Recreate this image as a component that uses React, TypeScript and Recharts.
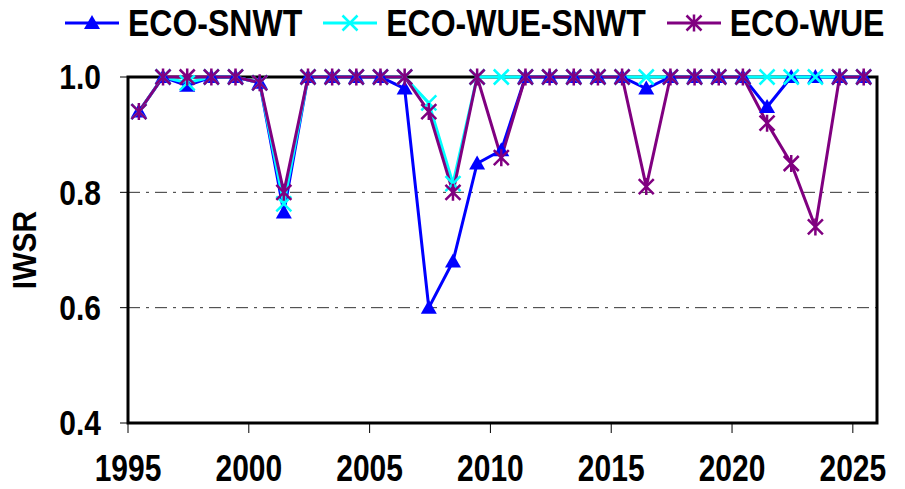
import { LineChart, Line, XAxis, YAxis, CartesianGrid, ReferenceArea, Label } from 'recharts'

const years = [
  1995, 1996, 1997, 1998, 1999, 2000, 2001, 2002, 2003, 2004, 2005,
  2006, 2007, 2008, 2009, 2010, 2011, 2012, 2013, 2014, 2015,
  2016, 2017, 2018, 2019, 2020, 2021, 2022, 2023, 2024, 2025
]

const ecoSnwt = [
  0.94, 1, 0.985, 1, 1, 0.99, 0.765, 1, 1, 1, 1,
  0.98, 0.6, 0.68, 0.85, 0.873, 1, 1, 1, 1, 1,
  0.98, 1, 1, 1, 1, 0.948, 1, 1, 1, 1
]

const ecoWueSnwt = [
  0.94, 1, 0.99, 1, 1, 0.99, 0.78, 1, 1, 1, 1,
  1, 0.955, 0.815, 1, 1, 1, 1, 1, 1, 1,
  1, 1, 1, 1, 1, 1, 1, 1, 1, 1
]

const ecoWue = [
  0.94, 1, 1, 1, 1, 0.99, 0.8, 1, 1, 1, 1,
  1, 0.94, 0.8, 1, 0.86, 1, 1, 1, 1, 1,
  0.81, 1, 1, 1, 1, 0.92, 0.85, 0.74, 1, 1
]

const xTicks = [1995, 2000, 2005, 2010, 2015, 2020, 2025]
const yTicks = [0.4, 0.6, 0.8, 1.0]

// values are yearly, plotted at mid-year
const data = years.map((y, i) => ({
  x: y + 0.45,
  snwt: ecoSnwt[i],
  wueSnwt: ecoWueSnwt[i],
  wue: ecoWue[i]
}))

const BLUE = '#0000ff'
const CYAN = '#00ffff'
const PURPLE = '#800080'
const FONT = '"Liberation Sans", Arial, sans-serif'

function triangle(cx: number, cy: number, key?: string | number) {
  return <path key={key} d={`M${cx},${cy - 8} L${cx + 8},${cy + 6} L${cx - 8},${cy + 6} Z`} fill={BLUE} />
}

function cross(cx: number, cy: number, color: string, key?: string | number) {
  const s = 7.5
  return (
    <path
      key={key}
      d={`M${cx - s},${cy - s} L${cx + s},${cy + s} M${cx + s},${cy - s} L${cx - s},${cy + s}`}
      stroke={color}
      strokeWidth={2.5}
      fill="none"
    />
  )
}

function star(cx: number, cy: number, key?: string | number) {
  const s = 7.5
  return (
    <path
      key={key}
      d={`M${cx - s},${cy - s} L${cx + s},${cy + s} M${cx + s},${cy - s} L${cx - s},${cy + s} M${cx},${cy - s - 1} L${cx},${cy + s + 1}`}
      stroke={PURPLE}
      strokeWidth={2.5}
      fill="none"
    />
  )
}

const legendItems = [
  { name: 'ECO-SNWT', color: BLUE, mark: (cx: number, cy: number) => triangle(cx, cy) },
  { name: 'ECO-WUE-SNWT', color: CYAN, mark: (cx: number, cy: number) => cross(cx, cy, CYAN) },
  { name: 'ECO-WUE', color: PURPLE, mark: (cx: number, cy: number) => star(cx, cy) }
]

function ChartLegend() {
  return (
    <div
      style={{
        position: 'absolute',
        top: 5,
        left: 65,
        display: 'flex',
        gap: 21,
        fontFamily: FONT,
        fontWeight: 'bold',
        fontSize: 32,
        lineHeight: '36px'
      }}
    >
      {legendItems.map((it) => (
        <div key={it.name} style={{ display: 'flex', alignItems: 'center', gap: 9 }}>
          <svg width={54} height={30}>
            <line x1={0} y1={15} x2={54} y2={15} stroke={it.color} strokeWidth={3} />
            {it.mark(27, 15)}
          </svg>
          <span style={{ display: 'inline-block', transform: 'scaleY(1.15)' }}>{it.name}</span>
        </div>
      ))}
    </div>
  )
}

function XTick(props: any) {
  const { x, y, payload } = props
  return (
    <text
      transform={`translate(${x},${y}) scale(1,1.2)`}
      textAnchor="middle"
      dy="0.71em"
      fill="#000"
      fontFamily={FONT}
      fontWeight="bold"
      fontSize={30}
    >
      {payload.value}
    </text>
  )
}

function YTick(props: any) {
  const { x, y, payload } = props
  return (
    <text
      transform={`translate(${x},${y}) scale(1,1.15)`}
      textAnchor="end"
      dy="0.355em"
      fill="#000"
      fontFamily={FONT}
      fontWeight="bold"
      fontSize={30}
    >
      {Number(payload.value).toFixed(1)}
    </text>
  )
}

export default function App() {
  return (
    <div style={{ position: 'absolute', left: 0, top: 0, width: 905, height: 489, background: '#fff' }}>
      <ChartLegend />
      <LineChart width={905} height={489} data={data} margin={{ top: 77, right: 28, bottom: 0, left: 0 }}>
        <CartesianGrid horizontal vertical={false} stroke="#333" strokeDasharray="12 6 3 6" />
        <XAxis
          dataKey="x"
          type="number"
          domain={[1995, 2026]}
          ticks={xTicks}
          height={66}
          axisLine={false}
          tickLine={{ stroke: '#000', strokeWidth: 1 }}
          tickSize={10}
          tickMargin={22}
          tick={<XTick />}
          interval={0}
        />
        <YAxis
          type="number"
          domain={[0.4, 1.0]}
          ticks={yTicks}
          width={128}
          axisLine={false}
          tickLine={{ stroke: '#000', strokeWidth: 1 }}
          tickSize={8}
          tickMargin={19}
          tick={<YTick />}
          interval={0}
        >
          <Label
            content={() => (
              <text
                transform="translate(24,250) rotate(-90) scale(1,1.1)"
                textAnchor="middle"
                dy="0.355em"
                fontFamily={FONT}
                fontWeight="bold"
                fontSize={30}
                fill="#000"
              >
                IWSR
              </text>
            )}
          />
        </YAxis>
        <ReferenceArea x1={1995} x2={2026} y1={0.4} y2={1.0} fill="none" stroke="#000" strokeWidth={3} />
        <Line
          dataKey="snwt"
          stroke={BLUE}
          strokeWidth={3}
          dot={(p: any) => triangle(p.cx, p.cy, p.index)}
          activeDot={false}
          isAnimationActive={false}
        />
        <Line
          dataKey="wueSnwt"
          stroke={CYAN}
          strokeWidth={3}
          dot={(p: any) => cross(p.cx, p.cy, CYAN, p.index)}
          activeDot={false}
          isAnimationActive={false}
        />
        <Line
          dataKey="wue"
          stroke={PURPLE}
          strokeWidth={3}
          dot={(p: any) => star(p.cx, p.cy, p.index)}
          activeDot={false}
          isAnimationActive={false}
        />
      </LineChart>
    </div>
  )
}
